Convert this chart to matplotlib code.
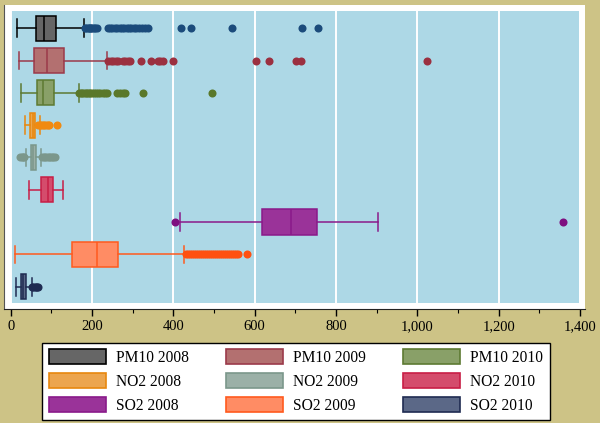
import matplotlib.pyplot as plt
from matplotlib.patches import Rectangle, Patch
from matplotlib.ticker import FuncFormatter, MultipleLocator

plt.rcParams['font.family'] = ['Liberation Serif', 'DejaVu Serif']

# series, top to bottom
labels = ['PM10 2008', 'PM10 2009', 'PM10 2010',
          'NO2 2008', 'NO2 2009', 'NO2 2010',
          'SO2 2008', 'SO2 2009', 'SO2 2010']

whislo = [15, 20, 25, 35, 38, 44, 416, 11, 13]
q1 = [62, 58, 65, 48, 49, 75, 617, 151, 25]
med = [83, 88, 79, 54, 55, 91, 688, 211, 31]
q3 = [111, 131, 106, 60, 61, 103, 754, 263, 38]
whishi = [181, 237, 167, 72, 74, 128, 903, 427, 52]

fliers = [
    [183, 186, 189, 192, 195, 198, 201, 204, 207, 211, 240, 245, 250, 256,
     262, 268, 273, 279, 285, 290, 296, 302, 308, 315, 322, 330, 338,
     418, 443, 544, 716, 756],
    [240, 246, 252, 258, 264, 276, 282, 288, 294, 320, 345, 362, 368, 375,
     398, 604, 634, 702, 714, 1023],
    [168, 172, 176, 180, 184, 188, 192, 196, 200, 205, 210, 215, 220, 226,
     232, 237, 262, 268, 275, 282, 325, 496],
    [67, 71, 75, 79, 83, 87, 91, 95, 115],
    [24, 27, 30, 33, 77, 81, 85, 89, 93, 97, 101, 105, 109],
    [],
    [404, 1358],
    [430, 435, 440, 445, 450, 455, 460, 465, 470, 475, 480, 485, 490, 495,
     500, 505, 510, 515, 520, 525, 530, 535, 540, 545, 550, 555, 560, 580],
    [53, 56, 59, 62, 65, 68],
]

fills = ['#666666', '#b37070', '#89a068', '#eca54e', '#9bb0a7',
         '#d44c6c', '#9a3399', '#ff8c64', '#5b6887']
edges = ['#000000', '#9b3a4a', '#5d7a32', '#e8870e', '#7b978b',
         '#c81e46', '#8a1a8a', '#ff5a1e', '#1f2b52']
flier_cols = ['#1b4b7b', '#9b3040', '#5a782a', '#f08a10', '#7b978b',
              '#c81e46', '#7e0f80', '#ff5010', '#1f2b52']

fig = plt.figure(figsize=(6, 4.23), dpi=100)
fig.patch.set_facecolor('#cdc386')
ax = fig.add_axes([4 / 600, 1 - 309 / 423, 581 / 600, 304 / 423])
ax.set_facecolor('white')

# light blue plot region inside the white panel
ax.add_patch(Rectangle((1.5, 0.46), 1396, 9.04, facecolor='#add8e6',
                       edgecolor='none', zorder=0.2))

for i, lab in enumerate(labels):
    st = [dict(label=lab, whislo=whislo[i], q1=q1[i], med=med[i],
               q3=q3[i], whishi=whishi[i], fliers=fliers[i])]
    ax.bxp(st, positions=[i + 1], widths=0.78, capwidths=0.55,
           orientation='horizontal', patch_artist=True, manage_ticks=False,
           boxprops=dict(facecolor=fills[i], edgecolor=edges[i], linewidth=1.1),
           medianprops=dict(color=edges[i], linewidth=1.1),
           whiskerprops=dict(color=edges[i], linewidth=1.1),
           capprops=dict(color=edges[i], linewidth=1.1),
           flierprops=dict(marker='o', markersize=5.8, markerfacecolor=flier_cols[i],
                           markeredgecolor='none', linestyle='none'))

ax.set_xlim(-16.5, 1412)
ax.set_ylim(9.69, 0.28)
ax.set_axisbelow(True)
ax.xaxis.set_major_locator(MultipleLocator(200))
ax.xaxis.set_minor_locator(MultipleLocator(100))
ax.xaxis.set_major_formatter(FuncFormatter(lambda v, p: f'{int(v):,}'))
ax.grid(axis='x', which='major', color='white', linewidth=1.4)
ax.set_yticks([])
ax.tick_params(axis='x', which='major', length=5, width=1, labelsize=10.5, pad=3)
ax.tick_params(axis='x', which='minor', length=3, width=0.8)
for s in ['top', 'right']:
    ax.spines[s].set_visible(False)
ax.spines['left'].set_color('#555555')
ax.spines['bottom'].set_color('#222222')

handles = [Patch(facecolor=fills[i], edgecolor=edges[i], linewidth=1.2)
           for i in range(len(labels))]

# legend fills row by row in the reference, matplotlib fills by column
order = [0, 3, 6, 1, 4, 7, 2, 5, 8]
leg = fig.legend([handles[k] for k in order], [labels[k] for k in order],
                 ncol=3, loc='center',
                 bbox_to_anchor=(296 / 600, 1 - 381.5 / 423),
                 fontsize=11.2, frameon=True, fancybox=False,
                 edgecolor='black', facecolor='white', framealpha=1,
                 handlelength=3.7, handleheight=1.15, handletextpad=0.65,
                 columnspacing=2.35, labelspacing=0.45, borderpad=0.4)
leg.get_frame().set_linewidth(1.0)

fig.savefig('out.png', dpi=100, facecolor=fig.get_facecolor())
